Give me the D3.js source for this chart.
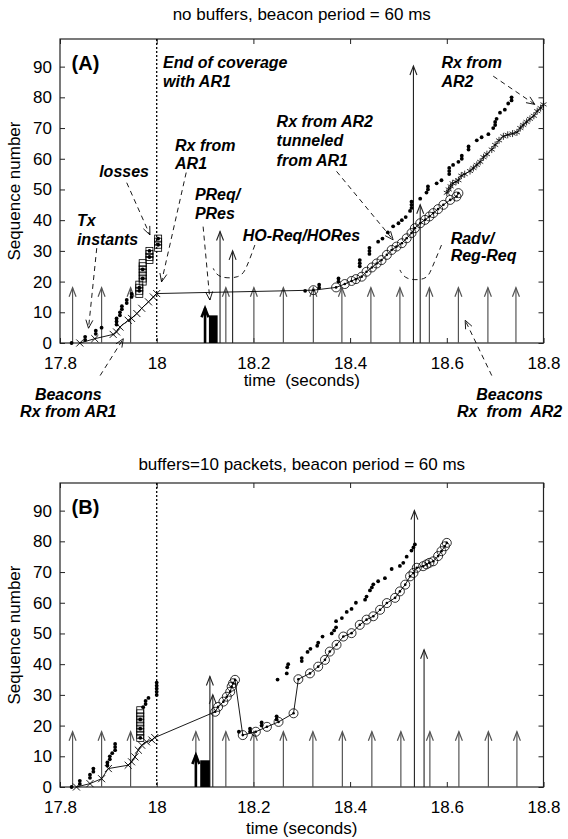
<!DOCTYPE html>
<html>
<head>
<meta charset="utf-8">
<script src="https://cdn.jsdelivr.net/npm/d3@7"></script>
<style>
	body { margin: 0; background: #fff; }
	svg { font-family: "Liberation Sans", Arial, sans-serif; }
	svg text { white-space: pre; }
	.tick text { font-size: 17px; fill: #000; }
	.note { font-size: 16px; font-weight: bold; font-style: italic; }
</style>
</head>
<body>
<div id="chart"></div>
<script>

// axes
const xDomain = [17.8, 18.8];
const yDomain = [0, 99];
const xTicks = [17.8, 18, 18.2, 18.4, 18.6, 18.8];
const yTicks = [0, 10, 20, 30, 40, 50, 60, 70, 80, 90];
const beaconLevel = 18;

// ---------- panel A : no buffers ----------
const aTx = [[17.824,0],[17.852,1],[17.852,2],[17.874,3],[17.874,4],[17.886,5],[17.917,6],[17.917,7],[17.917,8],
	[17.924,9],[17.924,10],[17.928,11],[17.928,12],[17.938,13],[17.938,14],[17.948,15],[17.948,16],[17.964,17],
	[17.964,18],[17.971,21],[17.971,24],[17.985,28],[17.985,30],[18.003,32],[18.003,34],
	[18.307,17],[18.336,18],[18.336,19],[18.376,20],[18.376,21],[18.42,25],[18.42,26],[18.42,27],[18.44,29],
	[18.44,30],[18.44,31],[18.458,33],[18.467,34],[18.478,36],[18.489,38],[18.5,39],[18.507,40],[18.515,41],
	[18.524,43],[18.527,44],[18.527,45],[18.527,46],[18.545,47],[18.558,49],[18.561,50],[18.561,51],[18.579,52],
	[18.589,53],[18.605,55],[18.605,56],[18.605,57],[18.613,58],[18.624,59],[18.631,60],[18.631,61],[18.645,63],
	[18.645,64],[18.662,66],[18.672,67],[18.686,68],[18.696,70],[18.7,71],[18.7,72],[18.703,73],[18.71,75],
	[18.72,76],[18.727,78],[18.734,79],[18.734,80]];
const aLoss = [[17.964,16],[17.964,17],[17.964,18],[17.964,19],[17.971,20],[17.971,21],[17.971,22],[17.971,23],
	[17.971,24],[17.971,25],[17.971,26],[17.985,27],[17.985,28],[17.985,29],[17.985,30],[18.003,31],[18.003,32],
	[18.003,33],[18.003,34]];
const aRxAR1 = [[17.841,0],[17.872,1.4],[17.91,2.8],[17.917,3.6],[17.924,5.2],[17.941,7.4],[17.948,8],[17.959,9.6],
	[17.969,11.3],[17.983,13.4],[17.993,15],[18.0,16.1]];
const aTunnel = [[18.324,17.2],[18.371,18.1],[18.389,19.2],[18.403,20.2],[18.412,20.8],[18.424,21.6],[18.434,23.2],
	[18.445,24.6],[18.455,25.9],[18.465,27],[18.476,28.7],[18.486,30.3],[18.496,31.4],[18.507,32.5],[18.517,34.1],
	[18.527,35.8],[18.534,37.4],[18.545,39],[18.555,40.1],[18.564,41.2],[18.572,42.3],[18.582,43.6],[18.593,45],
	[18.607,46.6],[18.62,47.7],[18.624,48.8]];
const aRxAR2 = [[18.6,48.9],[18.604,50],[18.608,51],[18.612,52],[18.619,52.5],[18.624,53],[18.63,54.5],[18.637,55],
	[18.648,56],[18.655,57],[18.662,58],[18.669,59],[18.676,60.5],[18.683,61.5],[18.693,63],[18.7,64.5],[18.708,66],
	[18.717,67.3],[18.726,67.8],[18.736,68.2],[18.745,68.6],[18.752,70],[18.758,71],[18.765,72],[18.772,73],
	[18.78,74],[18.787,75.5],[18.794,76.5],[18.8,77.7]];
const aBeacons = [17.826,17.886,17.946,18.143,18.201,18.262,18.324,18.383,18.443,18.503,18.564,18.624,18.685,18.743];
const aSignals = [[18.131,36.3],[18.157,30],[18.531,90.2],[18.545,45]];
const aProbe = [[18.1,11.3]];
const aBlock = [[18.108,18.126,9]];

// ---------- panel B : buffers = 10 packets ----------
const bTx = [[17.824,0],[17.841,1],[17.841,2],[17.862,3],[17.862,4],[17.869,5],[17.869,6],[17.898,7],[17.898,8],
	[17.903,9],[17.903,10],[17.908,11],[17.914,12],[17.914,13],[17.914,14],[17.966,16],[17.966,19],[17.966,22],
	[17.972,26],[17.977,27],[17.977,28],[17.983,29],[18.0,30],[18.0,31],[18.0,32],[18.0,33],[18.0,34],
	[18.17,18],[18.193,18],[18.193,19],[18.217,20],[18.217,21],[18.248,22],[18.248,23],
	[18.25,35],[18.269,37],[18.27,39],[18.272,40],[18.3,41],[18.3,42],[18.312,44],[18.318,45],[18.332,46],
	[18.334,47],[18.343,49],[18.362,50],[18.367,51],[18.371,52],[18.371,54],[18.383,55],[18.393,57],[18.403,58],
	[18.412,60],[18.431,61],[18.434,62],[18.441,64],[18.445,65],[18.448,66],[18.458,67],[18.472,68],[18.486,71],
	[18.503,72],[18.51,73],[18.517,75],[18.527,77],[18.531,78],[18.534,79]];
const bLoss = [[17.966,16],[17.966,17],[17.966,18],[17.966,19],[17.966,20],[17.966,21],[17.966,22],[17.966,23],
	[17.966,24],[17.966,25]];
const bRxAR1 = [[17.834,0],[17.862,1.1],[17.886,2.7],[17.9,6],[17.941,7.1],[17.948,8.2],[17.955,9.8],[17.962,12],
	[17.969,13.6],[17.979,14.7],[17.99,15.3],[17.996,16.1]];
const bTunnel = [[18.121,24.5],[18.127,26.1],[18.138,27.8],[18.145,29.4],[18.152,31],[18.155,32.7],[18.158,33.8],
	[18.162,34.9],[18.178,16.9],[18.205,18],[18.228,19.6],[18.252,21.2],[18.283,24],[18.293,35.1],[18.317,37],
	[18.334,39.2],[18.348,41.4],[18.358,44.1],[18.372,46.3],[18.386,49],[18.403,50.1],[18.42,52.8],[18.434,54.5],
	[18.448,55.6],[18.462,57.7],[18.476,59.9],[18.493,61.6],[18.503,63.7],[18.514,65.9],[18.524,68.6],[18.531,69.7],
	[18.538,71.4],[18.551,71.9],[18.558,72.5],[18.564,73],[18.572,73.5],[18.582,75.2],[18.589,76.8],[18.596,78.4],
	[18.6,79.5]];
const bRxAR2 = [];
const bBeacons = [17.826,17.886,17.946,18.081,18.143,18.201,18.262,18.323,18.384,18.445,18.505,18.565,18.625,18.686,18.745];
const bSignals = [[18.11,36],[18.116,30],[18.533,90],[18.553,44.7]];
const bProbe = [[18.081,10.4]];
const bBlock = [[18.09,18.11,8.7]];

// annotations of panel A (x in seconds, baselines in sequence units)
const aNotes = [
	{lines: ["End of coverage", "with AR1"], t: 18.013, s: [89.4, 83.3]},
	{lines: ["Rx from", "AR1"], t: 18.038, s: [62.6, 56.6]},
	{lines: ["losses"], t: 17.881, s: [53.9]},
	{lines: ["Tx", "instants"], t: 17.835, s: [38.1, 31.8]},
	{lines: ["PReq/", "PRes"], t: 18.079, s: [46.6, 40.4]},
	{lines: ["HO-Req/HORes"], t: 18.178, s: [33.2]},
	{lines: ["Rx from AR2", "tunneled", "from AR1"], t: 18.248, s: [70.3, 64.3, 57.7]},
	{lines: ["Rx from", "AR2"], t: 18.589, s: [89.4, 83.3]},
	{lines: ["Radv/", "Reg-Req"], t: 18.608, s: [32.4, 26.7]},
	{lines: ["Beacons", "Rx from AR1"], t: 17.817, s: [-18.4, -24], anchor: "middle"},
	{lines: ["Beacons", "Rx  from  AR2"], t: 18.73, s: [-18.4, -24], anchor: "middle"}
];
const aLeaders = [
	[[17.876,30.9],[17.859,4.8]],
	[[17.938,52.2],[17.986,35.2]],
	[[18.061,55.5],[18.01,19.9]],
	[[18.096,37.9],[18.11,14]],
	[[18.372,55.9],[18.489,33.6]],
	[[18.696,86.9],[18.782,77.7]],
	[[17.883,-10.6],[17.931,1.4]],
	[[18.693,-10.6],[18.638,7.4]]
];
const aBrackets = [
	[[18.203,31.9],[18.185,24],[18.172,21.1],[18.127,21.1],[18.117,24.3]],
	[[18.589,31.9],[18.567,23.5],[18.558,20.5],[18.514,20.5],[18.503,23.8]]
];

const panels = [
	{top: 39, title: "no buffers, beacon period = 60 ms", titleY: 20, tag: "(A)", xlabel: "time  (seconds)", xlabelY: 386,
		tx: aTx, loss: aLoss, ar1: aRxAR1, tunnel: aTunnel, ar2: aRxAR2, beacons: aBeacons, signals: aSignals,
		probe: aProbe, block: aBlock, notes: aNotes, leaders: aLeaders, brackets: aBrackets},
	{top: 483, title: "buffers=10 packets, beacon period = 60 ms", titleY: 470, tag: "(B)", xlabel: "time (seconds)", xlabelY: 834,
		tx: bTx, loss: bLoss, ar1: bRxAR1, tunnel: bTunnel, ar2: bRxAR2, beacons: bBeacons, signals: bSignals,
		probe: bProbe, block: bBlock, notes: [], leaders: [], brackets: []}
];

const width = 483.5, height = 304, left = 60;

const svg = d3.select("#chart").append("svg")
	.attr("width", 568)
	.attr("height", 839);

panels.forEach(p => drawPanel(p));

function drawPanel(p) {
	let g = svg.append("g").attr("transform", "translate(" + left + "," + p.top + ")");

	let x = d3.scaleLinear().domain(xDomain).range([0, width]);
	let y = d3.scaleLinear().domain(yDomain).range([height, 0]);

	// title + axis labels
	svg.append("text")
		.attr("x", left + width / 2)
		.attr("y", p.titleY)
		.attr("text-anchor", "middle")
		.style("font-size", "17px")
		.text(p.title);

	svg.append("text")
		.attr("x", left + width / 2)
		.attr("y", p.xlabelY)
		.attr("text-anchor", "middle")
		.style("font-size", "17px")
		.text(p.xlabel);

	svg.append("text")
		.attr("transform", "translate(20," + (p.top + height / 2) + ") rotate(-90)")
		.attr("text-anchor", "middle")
		.style("font-size", "17px")
		.text("Sequence number");

	// axes with inward ticks on all four sides
	g.append("g")
		.attr("class", "axis")
		.attr("transform", "translate(0," + height + ")")
		.call(d3.axisBottom(x).tickValues(xTicks).tickSizeInner(-5).tickSizeOuter(0).tickPadding(14).tickFormat(d3.format("~g")));
	g.append("g")
		.attr("class", "axis")
		.call(d3.axisTop(x).tickValues(xTicks).tickSizeInner(-5).tickSizeOuter(0).tickFormat(""));
	g.append("g")
		.attr("class", "axis")
		.call(d3.axisLeft(y).tickValues(yTicks).tickSizeInner(-5).tickSizeOuter(0).tickPadding(8));
	g.append("g")
		.attr("class", "axis")
		.attr("transform", "translate(" + width + ",0)")
		.call(d3.axisRight(y).tickValues(yTicks).tickSizeInner(-5).tickSizeOuter(0).tickFormat(""));

	g.selectAll(".axis .domain").remove();
	g.selectAll(".axis line").attr("stroke", "#222");

	g.append("rect")
		.attr("width", width)
		.attr("height", height)
		.attr("fill", "none")
		.attr("stroke", "#222")
		.attr("stroke-width", 1.2);

	// end of coverage
	g.append("line")
		.attr("x1", x(18)).attr("x2", x(18))
		.attr("y1", 0).attr("y2", height)
		.attr("stroke", "#000")
		.attr("stroke-width", 1.3)
		.attr("stroke-dasharray", "2,2");

	// beacon and signalling arrows
	let arrows = p.beacons.map(t => ({t: t, s: beaconLevel, c: "#555", w: 1.2}))
		.concat(p.signals.map(d => ({t: d[0], s: d[1], c: "#222", w: 1.1})))
		.concat(p.probe.map(d => ({t: d[0], s: d[1], c: "#000", w: 2.6})));

	arrows.forEach(a => {
		g.append("line")
			.attr("x1", x(a.t)).attr("x2", x(a.t))
			.attr("y1", y(0)).attr("y2", y(a.s))
			.attr("stroke", a.c)
			.attr("stroke-width", a.w);
		g.append("path")
			.attr("d", "M" + (x(a.t) - 3.5) + "," + (y(a.s) + 9) + "L" + x(a.t) + "," + y(a.s) + "L" + (x(a.t) + 3.5) + "," + (y(a.s) + 9))
			.attr("fill", "none")
			.attr("stroke", a.c)
			.attr("stroke-width", a.w);
	});

	p.block.forEach(b => {
		g.append("rect")
			.attr("x", x(b[0]))
			.attr("y", y(b[2]))
			.attr("width", x(b[1]) - x(b[0]))
			.attr("height", y(0) - y(b[2]))
			.attr("fill", "#000");
	});

	// received packets line (AR1 then tunneled)
	let line = d3.line().x(d => x(d[0])).y(d => y(d[1]));

	g.append("path")
		.datum(p.ar1.concat(p.tunnel))
		.attr("d", line)
		.attr("fill", "none")
		.attr("stroke", "#000")
		.attr("stroke-width", 0.9);

	if (p.ar2.length) {
		g.append("path")
			.datum(p.ar2)
			.attr("d", line)
			.attr("fill", "none")
			.attr("stroke", "#000")
			.attr("stroke-width", 0.9);
	}

	// x markers for packets from AR1
	g.selectAll(".xm")
		.data(p.ar1)
		.enter()
		.append("path")
		.attr("class", "xm")
		.attr("transform", d => "translate(" + x(d[0]) + "," + y(d[1]) + ")")
		.attr("d", d3.symbol(d3.symbolTimes, 34))
		.attr("fill", "none")
		.attr("stroke", "#000")
		.attr("stroke-width", 0.9);

	// stars for packets from AR2
	g.selectAll(".star")
		.data(p.ar2)
		.enter()
		.append("path")
		.attr("class", "star")
		.attr("transform", d => "translate(" + x(d[0]) + "," + y(d[1]) + ")")
		.attr("d", d3.symbol(d3.symbolAsterisk, 34))
		.attr("fill", "none")
		.attr("stroke", "#000")
		.attr("stroke-width", 0.8);

	// circles for tunneled packets
	g.selectAll(".circ")
		.data(p.tunnel)
		.enter()
		.append("circle")
		.attr("class", "circ")
		.attr("cx", d => x(d[0]))
		.attr("cy", d => y(d[1]))
		.attr("r", 4.5)
		.attr("fill", "none")
		.attr("stroke", "#000")
		.attr("stroke-width", 0.8);

	g.selectAll(".cdot")
		.data(p.tunnel)
		.enter()
		.append("circle")
		.attr("class", "cdot")
		.attr("cx", d => x(d[0]))
		.attr("cy", d => y(d[1]))
		.attr("r", 1.3)
		.attr("fill", "#000");

	// losses
	g.selectAll(".loss")
		.data(p.loss)
		.enter()
		.append("rect")
		.attr("class", "loss")
		.attr("x", d => x(d[0]) - 3.5)
		.attr("y", d => y(d[1]) - 3.5)
		.attr("width", 7)
		.attr("height", 7)
		.attr("fill", "none")
		.attr("stroke", "#000")
		.attr("stroke-width", 0.8);

	// transmitted packets
	g.selectAll(".tx")
		.data(p.tx)
		.enter()
		.append("circle")
		.attr("class", "tx")
		.attr("cx", d => x(d[0]))
		.attr("cy", d => y(d[1]))
		.attr("r", 1.9)
		.attr("fill", "#000");

	// panel tag
	g.append("text")
		.attr("x", x(17.824))
		.attr("y", y(89))
		.style("font-size", "20px")
		.style("font-weight", "bold")
		.text(p.tag);

	// notes
	p.notes.forEach(n => {
		n.lines.forEach((l, i) => {
			g.append("text")
				.attr("class", "note")
				.attr("x", x(n.t))
				.attr("y", y(n.s[i]))
				.attr("text-anchor", n.anchor || "start")
				.text(l);
		});
	});

	// dashed leaders with open arrow heads
	p.leaders.forEach(l => {
		let x0 = x(l[0][0]), y0 = y(l[0][1]), x1 = x(l[1][0]), y1 = y(l[1][1]);
		g.append("line")
			.attr("x1", x0).attr("y1", y0)
			.attr("x2", x1).attr("y2", y1)
			.attr("stroke", "#000")
			.attr("stroke-width", 0.9)
			.attr("stroke-dasharray", "5,4");
		let ang = Math.atan2(y1 - y0, x1 - x0);
		let hl = 9, hw = 0.4;
		let p1 = [x1 - hl * Math.cos(ang - hw), y1 - hl * Math.sin(ang - hw)];
		let p2 = [x1 - hl * Math.cos(ang + hw), y1 - hl * Math.sin(ang + hw)];
		g.append("path")
			.attr("d", "M" + p1 + "L" + x1 + "," + y1 + "L" + p2)
			.attr("fill", "none")
			.attr("stroke", "#000")
			.attr("stroke-width", 0.9);
	});

	let curve = d3.line().x(d => x(d[0])).y(d => y(d[1])).curve(d3.curveBasis);
	p.brackets.forEach(b => {
		g.append("path")
			.datum(b)
			.attr("d", curve)
			.attr("fill", "none")
			.attr("stroke", "#000")
			.attr("stroke-width", 0.9)
			.attr("stroke-dasharray", "5,4");
	});
}

</script>
</body>
</html>
